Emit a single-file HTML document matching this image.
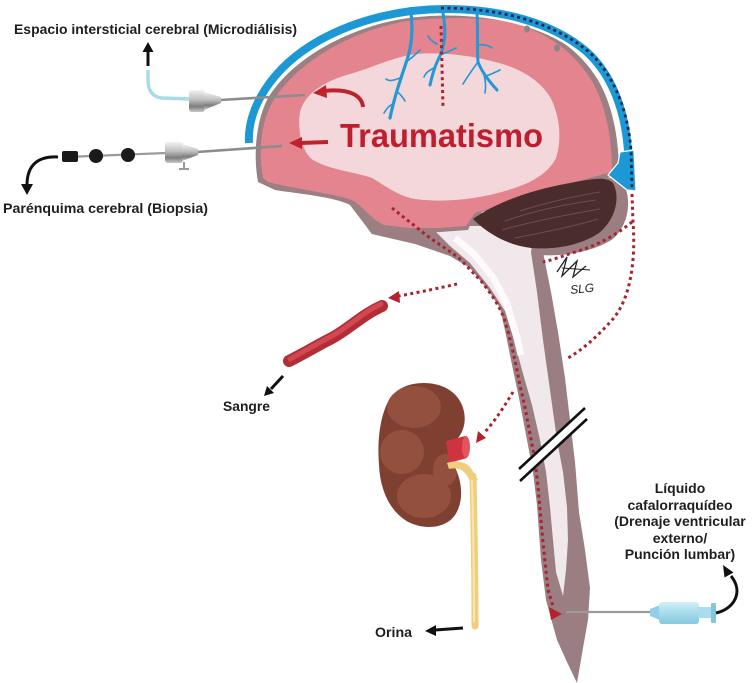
<!DOCTYPE html>
<html><head><meta charset="utf-8"><style>
html,body{margin:0;padding:0;background:#fff;width:752px;height:683px;overflow:hidden}
svg{display:block}
text{font-family:"Liberation Sans",Arial,sans-serif;font-weight:bold;fill:#1e1e1e}
</style></head><body>
<svg width="752" height="683" viewBox="0 0 752 683" xmlns="http://www.w3.org/2000/svg">
<defs>
<linearGradient id="metal" x1="0" y1="0" x2="0" y2="1">
<stop offset="0" stop-color="#f2f2f2"/><stop offset="0.45" stop-color="#bdbdbd"/><stop offset="0.75" stop-color="#7d7d7d"/><stop offset="1" stop-color="#c9c9c9"/>
</linearGradient>
<linearGradient id="syr" x1="0" y1="0" x2="0" y2="1">
<stop offset="0" stop-color="#d3f0f7"/><stop offset="0.5" stop-color="#a6dcec"/><stop offset="1" stop-color="#84c8df"/>
</linearGradient>
<clipPath id="kid"><path d="M413,384 C435,380 455,388 462,405 C468,420 463,432 458,438 C450,445 448,452 452,462 C462,478 465,500 455,515 C445,530 420,530 405,520 C390,510 380,490 379,465 C377,440 380,415 390,398 C396,390 404,386 413,384 Z"/></clipPath>
</defs>
<rect width="752" height="683" fill="#fff"/>

<!-- spinal cord -->
<path d="M350,205 L372,234 L415,244 L450,256 L470,268 L488,290 L500,308 L506,335 L512,365 L519,398 L527,440 L533,472 L537,505 L541,560 L546,600 L557,640 L567,662 L577,683 L583,648 L588,620 L590,588 L585,550 L579,512 L575,462 L570,420 L565,378 L558,332 L551,292 L543,252 L545,232 L480,212 L400,212 Z" fill="#9a7e82"/>
<path d="M430,226 L535,226 L531,252 L537,292 L543,340 L550,390 L557,440 L563,472 L567,507 L568,540 L566,570 L563,596 L556,572 L553,540 L550,507 L546,472 L540,440 L532,405 L522,370 L514,340 L505,311 L490,288 L470,263 L450,246 Z" fill="#f0e8ea"/>
<path d="M455,238 L474,254 L494,279 L507,304 L516,334 L521,355" stroke="#fdfafb" stroke-width="7" fill="none"/>

<!-- brain -->
<path d="M258,182 C254,160 254,125 268,98 C290,62 340,30 405,18 C440,13 475,13 505,18 C548,27 580,50 598,80 C612,104 619,136 619,175 L560,190 L475,214 L468,230 L440,232 L400,234 L372,234 C362,222 358,210 350,205 C335,197 300,194 275,190 Z" fill="#9b7f82"/>
<path d="M263,178 C259,156 259,126 273,101 C295,66 343,33 406,21 C440,17 475,17 505,21 C546,30 576,53 593,83 C606,107 612,138 612,172 L560,186 L475,213 L466,226 L440,228 L410,228 L384,225 C370,218 364,208 354,201 C338,194 300,190 268,182 Z" fill="#e3848e"/>
<path d="M300,112 C305,92 328,80 350,74 C372,68 390,58 415,54 C440,52 470,55 495,62 C520,68 540,80 550,97 C560,115 562,140 556,158 C548,174 530,184 505,191 C478,199 445,203 415,199 C398,196 386,186 372,178 C355,172 330,170 313,160 C302,152 297,130 300,112 Z" fill="#f3d7db"/>

<!-- cerebellum -->
<path d="M598,176 L622,180 C632,198 630,222 614,238 C598,250 568,257 538,255 L538,238 Z" fill="#9a7e82"/>
<path d="M473,219 C495,203 530,190 570,183 C592,179 606,176 613,183 C621,198 615,220 599,233 C581,245 556,250 531,248 C506,245 486,232 473,219 Z" fill="#4b2c2c"/>
<g stroke="#6d4d4d" stroke-width="1" fill="none">
<path d="M520,211 C545,203 570,197 600,192"/>
<path d="M505,221 C530,212 560,205 596,200"/>
<path d="M502,230 C530,222 565,215 600,209"/>
<path d="M515,238 C545,232 575,226 598,219"/>
</g>

<!-- membrane -->
<path d="M249,143 C247,110 270,68 320,40 C360,18 405,9 445,9 C500,9 552,22 587,52 C613,76 625,112 628,150 L630,188" stroke="#fff" stroke-width="13" fill="none"/>
<path d="M249,143 C247,110 270,68 320,40 C360,18 405,9 445,9 C500,9 552,22 587,52 C613,76 625,112 628,150 L630,188" stroke="#1c98d5" stroke-width="8" fill="none"/>
<polygon points="620,152 634,150 636,191 627,190 608,175 618,163" fill="#1c98d5" stroke="#fff" stroke-width="1.2"/>

<!-- veins -->
<g stroke="#2398d4" fill="none" stroke-linecap="round">
<path d="M411,13 C413,30 412,45 407,60 C401,78 394,98 390,118" stroke-width="3.2"/>
<path d="M443,13 C446,30 446,45 438,60 C434,68 432,76 430,85" stroke-width="3"/>
<path d="M477,13 C478,30 477,50 478,62 C482,72 488,80 497,90" stroke-width="3"/>
<g stroke-width="1.6">
<path d="M406,62 C412,58 416,54 420,50"/><path d="M400,78 C394,80 390,82 386,79"/><path d="M397,92 C401,94 403,98 405,101"/><path d="M393,104 C388,106 386,110 384,113"/>
<path d="M440,55 C448,52 452,50 456,48"/><path d="M434,68 C430,70 426,72 424,77"/><path d="M437,44 C433,42 430,40 428,36"/>
<path d="M478,62 C472,70 468,76 463,84"/><path d="M486,76 C492,74 496,72 500,70"/><path d="M478,45 C484,44 488,45 492,48"/><path d="M484,75 C486,82 486,87 485,93"/>
</g>
</g>
<ellipse cx="527" cy="29" rx="3" ry="3.5" fill="#8c8585"/>
<ellipse cx="557" cy="48" rx="3" ry="3.5" fill="#8c8585"/>

<!-- navy dots -->
<path d="M441,8 C500,8 553,22 589,52 C615,76 628,112 631,150 L632,190" stroke="#23284f" stroke-width="2.8" stroke-dasharray="3 3.4" fill="none"/>

<!-- red dotted paths -->
<g stroke="#a9232f" stroke-width="3" stroke-dasharray="3 3.4" fill="none">
<path d="M441,26 L443,108"/>
<path d="M632,194 L633,222 C636,262 630,300 612,320 C597,337 582,350 568,358"/>
<path d="M632,222 C620,232 600,245 575,252 C560,257 552,260 543,262"/>
<path d="M392,208 L430,238 L458,257 L481,281 C493,296 499,306 504,318 C511,340 516,365 521,390 C526,410 529,430 534,455 C538,480 539,500 541,520 C543,545 546,570 548,590 L553,606"/>
<path d="M457,284 C440,288 420,292 399,296"/>
<path d="M513,392 C505,405 496,420 484,433"/>
</g>
<g fill="#b5222c">
<polygon points="562,614 549,607 551,620"/>
<polygon points="388,298 399,291 400,303"/>
<polygon points="476,443 486,438 478,431"/>
</g>

<!-- signature -->
<polyline points="557,272 567,257 562,276 577,261 573,277 586,266" stroke="#222" stroke-width="1.3" fill="none"/>
<path d="M562,268 L590,270" stroke="#222" stroke-width="1.1"/>
<text x="570" y="293" font-size="12" font-style="italic" style="font-weight:normal" transform="rotate(-6 580 288)">SLG</text>

<!-- brain red arrows -->
<path d="M363,107 C362,96 350,88 324,91" stroke="#c0222b" stroke-width="4" fill="none"/>
<polygon points="313,93 326,85 327,98" fill="#c0222b"/>
<line x1="328" y1="142" x2="300" y2="143" stroke="#c0222b" stroke-width="4"/>
<polygon points="289,143 302,137 302,149" fill="#c0222b"/>
<text x="340" y="147" font-size="33" textLength="203" lengthAdjust="spacingAndGlyphs" style="fill:#be1e2d">Traumatismo</text>

<!-- microdialysis probe -->
<path d="M190,99 L162,98 C152,97 148,90 148,80 L148,70" stroke="#a7dbe6" stroke-width="3.5" fill="none"/>
<line x1="148" y1="66" x2="148" y2="50" stroke="#111" stroke-width="3"/>
<polygon points="142.5,52 153.5,52 148,42" fill="#111"/>
<line x1="220" y1="100" x2="305" y2="95" stroke="#8c8c8c" stroke-width="2.6"/>
<rect x="189" y="90" width="16" height="22" rx="3" fill="url(#metal)"/>
<polygon points="204,92 221,97 221,103 204,110" fill="url(#metal)"/>

<!-- biopsy probe -->
<line x1="67" y1="157" x2="166" y2="153" stroke="#9a9a9a" stroke-width="2.2"/>
<rect x="62" y="151" width="16" height="11" rx="2" fill="#1a1a1a"/>
<circle cx="96" cy="156" r="7" fill="#1a1a1a"/>
<circle cx="128" cy="155" r="7" fill="#1a1a1a"/>
<line x1="197" y1="152" x2="282" y2="146" stroke="#8c8c8c" stroke-width="2.6"/>
<rect x="165" y="142" width="18" height="21" rx="3" fill="url(#metal)"/>
<polygon points="182,144 198,149 198,155 182,161" fill="url(#metal)"/>
<line x1="184" y1="162" x2="184" y2="168" stroke="#999" stroke-width="2"/>
<line x1="179" y1="169" x2="189" y2="169" stroke="#999" stroke-width="2"/>
<path d="M58,157 C38,156 27,165 27,185" stroke="#111" stroke-width="3" fill="none"/>
<polygon points="21,184 33,184 27,195" fill="#111"/>

<!-- blood vessel -->
<path d="M289,361 C305,353 318,345 332,338 C350,328 362,315 382,306" stroke="#b32d36" stroke-width="12" stroke-linecap="round" fill="none"/>
<path d="M290,359 C305,351 318,343 332,336 C350,326 362,313 381,304" stroke="#d24850" stroke-width="5" stroke-linecap="round" fill="none"/>
<line x1="283" y1="376" x2="271" y2="389" stroke="#111" stroke-width="3"/>
<polygon points="264,396 274,393 267,386" fill="#111"/>

<!-- kidney -->
<path d="M413,384 C435,380 455,388 462,405 C468,420 463,432 458,438 C450,445 448,452 452,462 C462,478 465,500 455,515 C445,530 420,530 405,520 C390,510 380,490 379,465 C377,440 380,415 390,398 C396,390 404,386 413,384 Z" fill="#7f3f31"/>
<g clip-path="url(#kid)" fill="#94503f">
<ellipse cx="414" cy="407" rx="27" ry="21"/>
<ellipse cx="402" cy="452" rx="22" ry="22"/>
<ellipse cx="424" cy="496" rx="27" ry="22"/>
<ellipse cx="445" cy="470" rx="12" ry="16"/>
</g>
<polygon points="446,441 465,436 467,458 449,463" fill="#cf3340"/>
<ellipse cx="466" cy="447" rx="4" ry="11" fill="#e2555d"/>
<path d="M447,463 C455,460 468,461 472,470 L478,480 L470,482 C466,470 458,467 449,469 Z" fill="#efcf7e"/>
<path d="M473,476 C474,520 475,580 475,626" stroke="#efcf7e" stroke-width="7" stroke-linecap="round" fill="none"/>
<path d="M472,480 C473,520 474,580 474,622" stroke="#f8e6b0" stroke-width="2" fill="none"/>
<line x1="463" y1="628" x2="435" y2="630" stroke="#111" stroke-width="3"/>
<polygon points="425,631 436,625 436,636" fill="#111"/>

<!-- double slash -->
<polygon points="520,468 585,408 587,418 520,480" fill="#fff"/>
<line x1="519" y1="469" x2="585" y2="408" stroke="#111" stroke-width="2.6"/>
<line x1="520" y1="481" x2="587" y2="419" stroke="#111" stroke-width="2.6"/>

<!-- syringe -->
<line x1="566" y1="612" x2="652" y2="612" stroke="#9a9a9a" stroke-width="2.2"/>
<polygon points="650,609 660,605 660,620 650,616" fill="#8fd0e6"/>
<rect x="659" y="602" width="40" height="22" rx="3" fill="url(#syr)"/>
<rect x="698" y="607" width="14" height="11" fill="#a9dcec"/>
<rect x="711" y="603" width="5" height="20" rx="1" fill="#86c6dc"/>
<path d="M716,613 C734,609 744,592 731,576" stroke="#111" stroke-width="3" fill="none"/>
<polygon points="723,565 733.5,572.5 724.5,577.5" fill="#111"/>

<!-- labels -->
<text x="14" y="34" font-size="14" textLength="283" lengthAdjust="spacingAndGlyphs">Espacio intersticial cerebral (Microdiálisis)</text>
<text x="3" y="213" font-size="14" textLength="205" lengthAdjust="spacingAndGlyphs">Parénquima cerebral (Biopsia)</text>
<text x="223" y="411" font-size="14" textLength="47" lengthAdjust="spacingAndGlyphs">Sangre</text>
<text x="375" y="637" font-size="14" textLength="37" lengthAdjust="spacingAndGlyphs">Orina</text>
<g text-anchor="middle" font-size="14">
<text x="680" y="493">Líquido</text>
<text x="680" y="510">cafalorraquídeo</text>
<text x="680" y="526">(Drenaje ventricular</text>
<text x="680" y="543">externo/</text>
<text x="680" y="559">Punción lumbar)</text>
</g>
</svg>
</body></html>
